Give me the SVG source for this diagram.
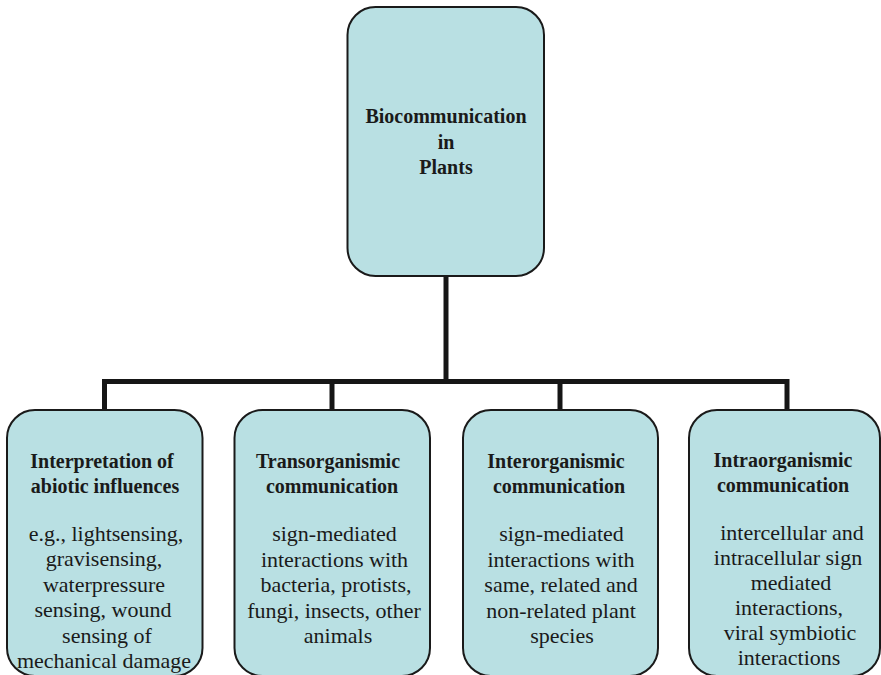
<svg xmlns="http://www.w3.org/2000/svg" width="881" height="675" viewBox="0 0 881 675">
<style>
.box{fill:#b9e0e3;stroke:#1a1a1a;stroke-width:2}
.conn{fill:none;stroke:#161616;stroke-width:5;stroke-linejoin:miter}
text{font-family:"Liberation Serif","Times New Roman",serif;fill:#1a1a1a;text-anchor:middle}
.h{font-size:20px;font-weight:bold}
.b{font-size:22px}
</style>
<rect width="881" height="675" fill="#ffffff"/>
<g id="connectors">
<path class="conn" d="M446 276 V381.5"/>
<path class="conn" d="M104.5 410 V381.5 H787 V410"/>
<path class="conn" d="M332 381.5 V410"/>
<path class="conn" d="M560 381.5 V410"/>
</g>
<g id="root">
<rect class="box" x="347.5" y="7" width="196.5" height="269" rx="28" ry="28"/>
<text class="h" x="446" y="123">Biocommunication</text>
<text class="h" x="446" y="148.5">in</text>
<text class="h" x="446" y="174">Plants</text>
</g>
<g id="abiotic">
<rect class="box" x="7" y="410" width="195.5" height="266" rx="28" ry="28"/>
<text class="h" x="102" y="468">Interpretation of</text>
<text class="h" x="105" y="493">abiotic influences</text>
<text class="b" x="106" y="540.5">e.g., lightsensing,</text>
<text class="b" x="104" y="566">gravisensing,</text>
<text class="b" x="104" y="591.5">waterpressure</text>
<text class="b" x="103" y="617">sensing, wound</text>
<text class="b" x="107" y="642.5">sensing of</text>
<text class="b" x="104" y="668">mechanical damage</text>
</g>
<g id="transorganismic">
<rect class="box" x="234.5" y="410" width="195.5" height="266" rx="28" ry="28"/>
<text class="h" x="328" y="468">Transorganismic</text>
<text class="h" x="332" y="493">communication</text>
<text class="b" x="334.5" y="541">sign-mediated</text>
<text class="b" x="334.5" y="566.5">interactions with</text>
<text class="b" x="336" y="592">bacteria, protists,</text>
<text class="b" x="334" y="617.5">fungi, insects, other</text>
<text class="b" x="338" y="643">animals</text>
</g>
<g id="interorganismic">
<rect class="box" x="463" y="410" width="195" height="266" rx="28" ry="28"/>
<text class="h" x="556" y="468">Interorganismic</text>
<text class="h" x="559" y="493">communication</text>
<text class="b" x="561.5" y="541">sign-mediated</text>
<text class="b" x="561" y="566.5">interactions with</text>
<text class="b" x="561" y="592">same, related and</text>
<text class="b" x="561" y="617.5">non-related plant</text>
<text class="b" x="562" y="643">species</text>
</g>
<g id="intraorganismic">
<rect class="box" x="689" y="410" width="191" height="266" rx="28" ry="28"/>
<text class="h" x="783" y="467">Intraorganismic</text>
<text class="h" x="783" y="492">communication</text>
<text class="b" x="792" y="540">intercellular and</text>
<text class="b" x="788" y="565">intracellular sign</text>
<text class="b" x="791" y="590">mediated</text>
<text class="b" x="789" y="614.5">interactions,</text>
<text class="b" x="790" y="639.5">viral symbiotic</text>
<text class="b" x="789" y="664.5">interactions</text>
</g>
</svg>
